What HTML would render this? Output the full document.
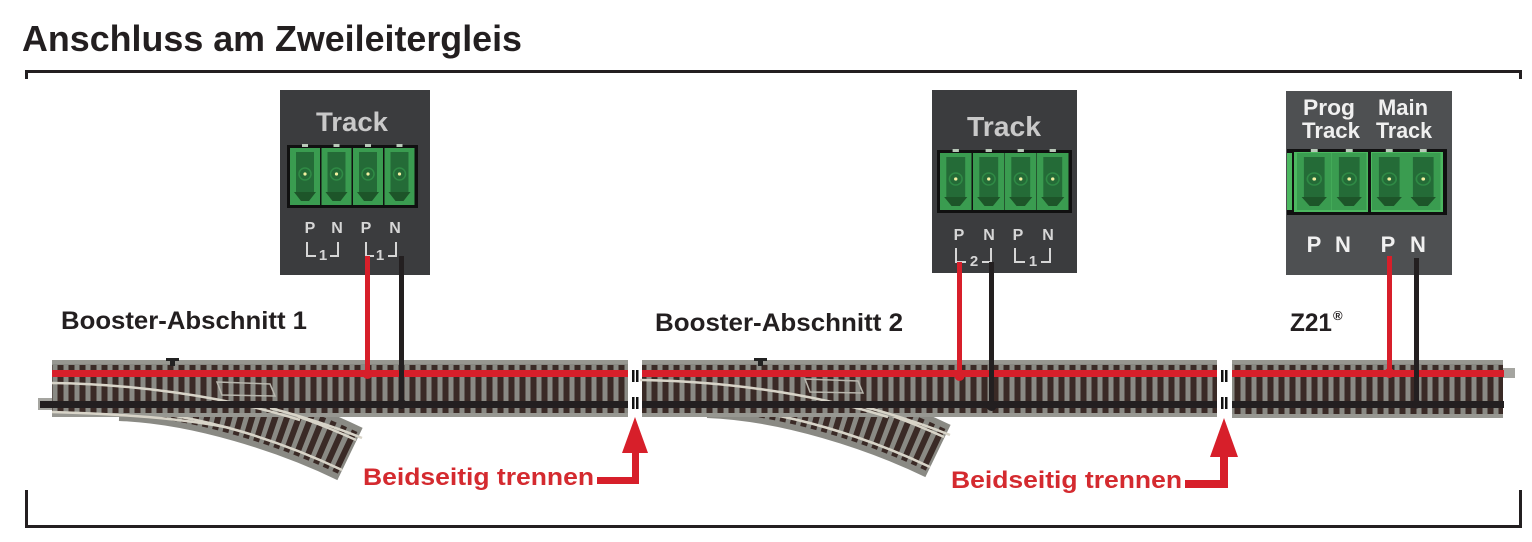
<!DOCTYPE html>
<html><head><meta charset="utf-8">
<style>
html,body{margin:0;padding:0;background:#fff;}
svg{display:block;}
text{font-family:"Liberation Sans",Arial,sans-serif;font-weight:bold;}
</style></head>
<body>
<svg width="1532" height="542" viewBox="0 0 1532 542" xmlns="http://www.w3.org/2000/svg">
<defs>
  <pattern id="ties" patternUnits="userSpaceOnUse" x="0" y="360" width="11" height="57">
    <rect x="0" y="0" width="11" height="57" fill="#8a8a84"/>
    <rect x="2.5" y="5" width="6" height="49" fill="#3a2a26"/>
  </pattern>
  <g id="mod">
    <rect x="0" y="0" width="30" height="57" fill="#3a9c50"/>
    <rect x="6" y="4" width="18" height="40" fill="#246b37"/>
    <polygon points="4,44 26,44 19,53 11,53" fill="#1d5529"/>
    <circle cx="15" cy="26" r="6" fill="none" stroke="#2f8a45" stroke-width="1.5"/>
    <circle cx="15" cy="26" r="1.6" fill="#f3f0a0"/>
    <rect x="12" y="-4" width="6" height="3" fill="#b9c9b9"/>
  </g>
</defs>

<!-- Title -->
<text x="22" y="51" font-size="36" fill="#231f20" textLength="500" lengthAdjust="spacingAndGlyphs">Anschluss am Zweileitergleis</text>

<!-- top bracket -->
<rect x="25" y="70" width="1497" height="3" fill="#231f20"/>
<rect x="25" y="70" width="3" height="9" fill="#231f20"/>
<rect x="1519" y="70" width="3" height="9" fill="#231f20"/>
<!-- bottom bracket -->
<rect x="25" y="525" width="1497" height="3" fill="#231f20"/>
<rect x="25" y="490" width="3" height="38" fill="#231f20"/>
<rect x="1519" y="490" width="3" height="38" fill="#231f20"/>

<!-- ===== Box 1 ===== -->
<rect x="280" y="90" width="150" height="185" fill="#3b3c3e"/>
<text x="352" y="131" font-size="27" fill="#c9c9c9" text-anchor="middle" textLength="72" lengthAdjust="spacingAndGlyphs">Track</text>
<rect x="287" y="145" width="131" height="63" fill="#101010"/>
<use href="#mod" transform="translate(290,148)"/>
<use href="#mod" transform="translate(321.5,148)"/>
<use href="#mod" transform="translate(353,148)"/>
<use href="#mod" transform="translate(384.5,148)"/>
<g fill="#d6d6d6" font-size="16" text-anchor="middle">
  <text x="310" y="233">P</text><text x="337" y="233">N</text>
  <text x="366" y="233">P</text><text x="395" y="233">N</text>
  <text x="323" y="260" font-size="15">1</text><text x="380" y="260" font-size="15">1</text>
</g>
<g fill="none" stroke="#d6d6d6" stroke-width="2">
  <polyline points="307,242 307,256 316,256"/><polyline points="330,256 338,256 338,242"/>
  <polyline points="366,242 366,256 374,256"/><polyline points="388,256 396,256 396,242"/>
</g>

<!-- ===== Box 2 ===== -->
<rect x="932" y="90" width="145" height="183" fill="#3b3c3e"/>
<text x="1004" y="136" font-size="28" fill="#c9c9c9" text-anchor="middle" textLength="74" lengthAdjust="spacingAndGlyphs">Track</text>
<rect x="937" y="150" width="135" height="63" fill="#101010"/>
<use href="#mod" transform="translate(940,153) scale(1.05,1)"/>
<use href="#mod" transform="translate(973,153) scale(1.05,1)"/>
<use href="#mod" transform="translate(1005,153) scale(1.05,1)"/>
<use href="#mod" transform="translate(1037,153) scale(1.05,1)"/>
<g fill="#d6d6d6" font-size="16" text-anchor="middle">
  <text x="959" y="240">P</text><text x="989" y="240">N</text>
  <text x="1018" y="240">P</text><text x="1048" y="240">N</text>
  <text x="974" y="266" font-size="15">2</text><text x="1033" y="266" font-size="15">1</text>
</g>
<g fill="none" stroke="#d6d6d6" stroke-width="2">
  <polyline points="956,248 956,262 966,262"/><polyline points="982,262 991,262 991,248"/>
  <polyline points="1015,248 1015,262 1025,262"/><polyline points="1041,262 1050,262 1050,248"/>
</g>

<!-- ===== Box 3 (Z21) ===== -->
<rect x="1286" y="91" width="166" height="184" fill="#4e5052"/>
<g fill="#f0f0f0" font-size="22" text-anchor="middle">
  <text x="1329" y="115" textLength="52" lengthAdjust="spacingAndGlyphs">Prog</text>
  <text x="1331" y="138" textLength="58" lengthAdjust="spacingAndGlyphs">Track</text>
  <text x="1403" y="115" textLength="50" lengthAdjust="spacingAndGlyphs">Main</text>
  <text x="1404" y="138" textLength="56" lengthAdjust="spacingAndGlyphs">Track</text>
</g>
<rect x="1287" y="149" width="160" height="66" fill="#101010"/>
<rect x="1287" y="153" width="5" height="57" fill="#4cb860"/>
<rect x="1294" y="152" width="74" height="60" fill="#4cb860"/>
<rect x="1371" y="152" width="72" height="60" fill="#4cb860"/>
<use href="#mod" transform="translate(1297,153) scale(1.15,1)"/>
<use href="#mod" transform="translate(1332,153) scale(1.15,1)"/>
<use href="#mod" transform="translate(1372,153) scale(1.15,1)"/>
<use href="#mod" transform="translate(1406,153) scale(1.15,1)"/>
<g fill="#f0f0f0" font-size="22" text-anchor="middle">
  <text x="1314" y="252">P</text><text x="1343" y="252">N</text>
  <text x="1388" y="252">P</text><text x="1418" y="252">N</text>
</g>

<!-- labels -->
<g fill="#231f20" font-size="25">
  <text x="61" y="329" textLength="246" lengthAdjust="spacingAndGlyphs">Booster-Abschnitt 1</text>
  <text x="655" y="331" textLength="248" lengthAdjust="spacingAndGlyphs">Booster-Abschnitt 2</text>
  <text x="1290" y="331" textLength="42" lengthAdjust="spacingAndGlyphs">Z21</text>
  <text x="1333" y="320" font-size="13" font-weight="normal">®</text>
</g>

<!-- ===== Turnout branches (under straight tracks) ===== -->
<g id="branch">
  <path d="M120,392 C200,395 290,425 350,454" fill="none" stroke="#8a8a84" stroke-width="58"/>
  <path d="M120,392 C200,395 290,425 350,454" fill="none" stroke="#3a2a26" stroke-width="46" stroke-dasharray="6 5"/>
  <path d="M120,410 C200,413 285,443 342,470" fill="none" stroke="#d8d4c8" stroke-width="2.5"/>
  <path d="M120,380 C200,382 290,410 356,440" fill="none" stroke="#d8d4c8" stroke-width="2.5"/>
</g>
<use href="#branch" transform="translate(588,-3)"/>

<!-- ===== Straight tracks ===== -->
<rect x="38" y="398" width="16" height="12" fill="#a5a5a0"/>
<rect x="52" y="360" width="576" height="57" fill="url(#ties)"/>
<rect x="52" y="360" width="576" height="4" fill="#979791"/>
<rect x="52" y="413" width="576" height="4" fill="#979791"/>
<rect x="642" y="360" width="575" height="57" fill="url(#ties)"/>
<rect x="642" y="360" width="575" height="4" fill="#979791"/>
<rect x="642" y="413" width="575" height="4" fill="#979791"/>
<rect x="1232" y="360" width="271" height="58" fill="url(#ties)"/>
<rect x="1232" y="360" width="271" height="4" fill="#979791"/>
<rect x="1232" y="414" width="271" height="4" fill="#979791"/>
<rect x="1503" y="368" width="12" height="10" fill="#a5a5a0"/>

<!-- diverging rails crossing straight track -->
<g fill="none" stroke="#d8d4c8" stroke-width="2.5">
  <path d="M52,383 C130,384 220,395 300,420"/>
  <path d="M270,408 C300,416 330,425 362,438"/>
  <path d="M52,412 C120,414 180,418 230,428"/>
  <path d="M640,380 C718,381 808,392 888,417"/>
  <path d="M858,405 C888,413 918,422 950,435"/>
</g>
<!-- frog hatch -->
<polygon points="217,382 270,384 275,396 222,395" fill="none" stroke="#b8b6ad" stroke-width="1.5"/>
<polygon points="805,379 858,381 863,393 810,392" fill="none" stroke="#b8b6ad" stroke-width="1.5"/>
<rect x="170" y="360" width="5" height="6" fill="#222"/>
<rect x="166" y="358" width="13" height="3" fill="#222"/>
<rect x="758" y="360" width="5" height="6" fill="#222"/>
<rect x="754" y="358" width="13" height="3" fill="#222"/>

<!-- red & black rail lines -->
<g fill="#d71f2a">
  <rect x="52" y="370" width="576" height="7"/>
  <rect x="642" y="370" width="575" height="7"/>
  <rect x="1232" y="370" width="272" height="7"/>
</g>
<g fill="#231f20">
  <rect x="40" y="401" width="588" height="7"/>
  <rect x="642" y="401" width="575" height="7"/>
  <rect x="1232" y="401" width="272" height="7"/>
</g>

<!-- gap markers -->
<g fill="#111">
  <rect x="632" y="370" width="2.5" height="12"/><rect x="636" y="370" width="2.5" height="12"/>
  <rect x="632" y="397" width="2.5" height="12"/><rect x="636" y="397" width="2.5" height="12"/>
  <rect x="1221" y="370" width="2.5" height="12"/><rect x="1225" y="370" width="2.5" height="12"/>
  <rect x="1221" y="397" width="2.5" height="12"/><rect x="1225" y="397" width="2.5" height="12"/>
</g>

<!-- wires -->
<g fill="#d71f2a">
  <rect x="365" y="256" width="5" height="118"/><circle cx="367.5" cy="374" r="5"/>
  <rect x="957" y="262" width="5" height="114"/><circle cx="959.5" cy="376" r="5"/>
  <rect x="1387" y="256" width="5" height="117"/><circle cx="1389.5" cy="373" r="5"/>
</g>
<g fill="#231f20">
  <rect x="399" y="256" width="5" height="148"/><circle cx="401.5" cy="404" r="5"/>
  <rect x="989" y="262" width="5" height="144"/><circle cx="991.5" cy="406" r="5"/>
  <rect x="1414" y="258" width="5" height="146"/><circle cx="1416.5" cy="404" r="4.5"/>
</g>

<!-- red arrows -->
<g fill="#d71f2a">
  <polygon points="635,417 622,453 648,453"/>
  <rect x="632" y="452" width="7" height="32"/>
  <rect x="597" y="477" width="42" height="7"/>
  <polygon points="1224,418 1210,457 1238,457"/>
  <rect x="1220" y="456" width="8" height="32"/>
  <rect x="1185" y="480" width="43" height="8"/>
</g>
<g fill="#d42a2f" font-size="24">
  <text x="363" y="485" textLength="231" lengthAdjust="spacingAndGlyphs">Beidseitig trennen</text>
  <text x="951" y="488" textLength="231" lengthAdjust="spacingAndGlyphs">Beidseitig trennen</text>
</g>
</svg>
</body></html>
